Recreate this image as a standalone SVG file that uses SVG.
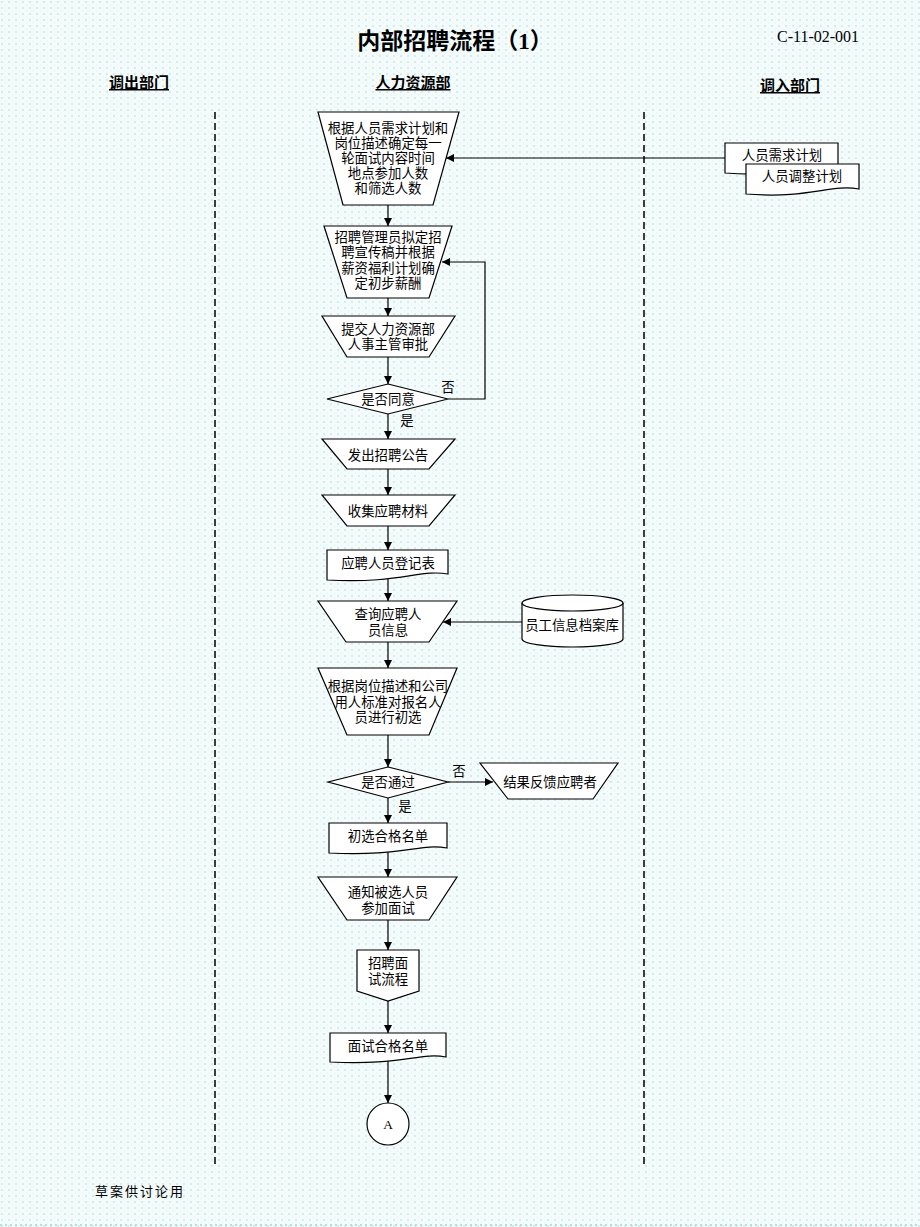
<svg xmlns="http://www.w3.org/2000/svg" width="920" height="1227" viewBox="0 0 920 1227">
<defs>
<pattern id="bg" width="7" height="6" patternUnits="userSpaceOnUse">
<rect width="7" height="6" fill="#f3fbfb"/>
<circle cx="2" cy="2" r="0.9" fill="#c9e6e6"/>
<circle cx="5.5" cy="5" r="0.6" fill="#dff1f1"/>
</pattern>
<marker id="arr" markerWidth="8" markerHeight="8" refX="8" refY="4" orient="auto" markerUnits="userSpaceOnUse">
<path d="M0,0 L8,4 L0,8 Z" fill="#000"/>
</marker>
<style>
.s{fill:#fff;stroke:#000;stroke-width:1.2}
.t{font-family:"Liberation Serif","Noto Sans CJK SC",serif;font-size:13.4px;fill:#000;text-anchor:middle}
.h{font-family:"Liberation Sans","Noto Sans CJK SC",sans-serif;font-size:15px;font-weight:bold;fill:#000;text-anchor:middle;text-decoration:underline}
.c{fill:none;stroke:#000;stroke-width:1.2}
.ca{fill:none;stroke:#000;stroke-width:1.2;marker-end:url(#arr)}
.d{stroke:#000;stroke-width:1.5;stroke-dasharray:7,4}
</style>
</defs>
<rect width="920" height="1227" fill="url(#bg)"/>
<line x1="0" y1="1225" x2="920" y2="1225" stroke="#9fd8cf" stroke-width="1.5" stroke-dasharray="2,3"/>

<g id="header">
<text x="455" y="49" style="font-family:'Liberation Serif','Noto Sans CJK SC',serif;font-size:23px;font-weight:bold;text-anchor:middle">内部招聘流程（1）</text>
<text x="818" y="42" style="font-family:'Liberation Serif',serif;font-size:16px;text-anchor:middle">C-11-02-001</text>
<text class="h" x="139" y="88">调出部门</text>
<text class="h" x="413" y="88">人力资源部</text>
<text class="h" x="790" y="91">调入部门</text>
</g>

<g id="lanes">
<line class="d" x1="215" y1="112" x2="215" y2="1165"/>
<line class="d" x1="644" y1="112" x2="644" y2="1165"/>
</g>

<g id="connectors">
<line class="ca" x1="388" y1="205" x2="388" y2="226"/>
<line class="ca" x1="388" y1="298" x2="388" y2="316"/>
<line class="ca" x1="388" y1="357" x2="388" y2="384"/>
<polyline class="ca" points="448,399 485,399 485,262 442,262"/>
<line class="ca" x1="388" y1="414" x2="388" y2="439"/>
<line class="ca" x1="388" y1="469" x2="388" y2="495"/>
<line class="ca" x1="388" y1="526" x2="388" y2="550"/>
<line class="ca" x1="388" y1="579" x2="388" y2="601"/>
<line class="ca" x1="388" y1="642" x2="388" y2="668"/>
<line class="ca" x1="388" y1="735" x2="388" y2="767"/>
<line class="ca" x1="448" y1="782" x2="493" y2="782"/>
<line class="ca" x1="388" y1="798" x2="388" y2="823"/>
<line class="ca" x1="388" y1="851" x2="388" y2="877"/>
<line class="ca" x1="388" y1="920" x2="388" y2="950"/>
<line class="ca" x1="388" y1="1001" x2="388" y2="1033"/>
<line class="ca" x1="388" y1="1061" x2="388" y2="1103"/>
<line class="ca" x1="725" y1="158" x2="446" y2="158"/>
<line class="ca" x1="522" y1="622" x2="443" y2="622"/>
<text class="t" x="448" y="392">否</text>
<text class="t" x="407" y="425">是</text>
<text class="t" x="459" y="776">否</text>
<text class="t" x="405" y="811">是</text>
</g>

<g id="n1">
<polygon class="s" points="318,112 459,112 433,205 343,205"/>
<text class="t" x="388" y="133">根据人员需求计划和</text>
<text class="t" x="388" y="148">岗位描述确定每一</text>
<text class="t" x="388" y="163">轮面试内容时间</text>
<text class="t" x="388" y="178">地点参加人数</text>
<text class="t" x="388" y="193">和筛选人数</text>
</g>

<g id="n2">
<polygon class="s" points="324,226 452,226 429,298 347,298"/>
<text class="t" x="388" y="242">招聘管理员拟定招</text>
<text class="t" x="388" y="257">聘宣传稿并根据</text>
<text class="t" x="388" y="273">薪资福利计划确</text>
<text class="t" x="388" y="288">定初步薪酬</text>
</g>

<g id="n3">
<polygon class="s" points="322,316 455,316 429,357 347,357"/>
<text class="t" x="388" y="334">提交人力资源部</text>
<text class="t" x="388" y="349">人事主管审批</text>
</g>

<g id="d1">
<polygon class="s" points="388,384 448,399 388,414 327,399"/>
<text class="t" x="388" y="404">是否同意</text>
</g>

<g id="n4">
<polygon class="s" points="322,439 455,439 429,469 347,469"/>
<text class="t" x="388" y="460">发出招聘公告</text>
</g>

<g id="n5">
<polygon class="s" points="322,495 455,495 429,526 347,526"/>
<text class="t" x="388" y="516">收集应聘材料</text>
</g>

<g id="n6">
<path class="s" d="M327,550 H448 V574 C420,569 400,584 327,580 Z"/>
<text class="t" x="388" y="568">应聘人员登记表</text>
</g>

<g id="n7">
<polygon class="s" points="318,601 457,601 429,642 346,642"/>
<text class="t" x="388" y="619">查询应聘人</text>
<text class="t" x="388" y="635">员信息</text>
</g>

<g id="db">
<path class="s" d="M522,603 V639 A50.5,8 0 0 0 623,639 V603"/>
<ellipse class="s" cx="572.5" cy="603" rx="50.5" ry="8"/>
<text class="t" x="572" y="630">员工信息档案库</text>
</g>

<g id="n8">
<polygon class="s" points="318,668 457,668 429,735 347,735"/>
<text class="t" x="388" y="691">根据岗位描述和公司</text>
<text class="t" x="388" y="707">用人标准对报名人</text>
<text class="t" x="388" y="722">员进行初选</text>
</g>

<g id="d2">
<polygon class="s" points="388,767 448,782 388,798 328,782"/>
<text class="t" x="388" y="787">是否通过</text>
</g>

<g id="n9">
<polygon class="s" points="480,763 618,763 593,799 508,799"/>
<text class="t" x="550" y="787">结果反馈应聘者</text>
</g>

<g id="n10">
<path class="s" d="M329,823 H447 V848 C420,843 400,857 329,853 Z"/>
<text class="t" x="388" y="841">初选合格名单</text>
</g>

<g id="n11">
<polygon class="s" points="318,877 457,877 429,920 347,920"/>
<text class="t" x="388" y="897">通知被选人员</text>
<text class="t" x="388" y="913">参加面试</text>
</g>

<g id="n12">
<polygon class="s" points="357,950 419,950 419,991 388,1001 357,991"/>
<text class="t" x="388" y="968">招聘面</text>
<text class="t" x="388" y="984">试流程</text>
</g>

<g id="n13">
<path class="s" d="M330,1033 H446 V1057 C420,1052 400,1066 330,1062 Z"/>
<text class="t" x="388" y="1051">面试合格名单</text>
</g>

<g id="nA">
<circle class="s" cx="388" cy="1124" r="21"/>
<text class="t" x="388" y="1129">A</text>
</g>

<g id="doc1">
<path class="s" d="M725,143 H838 V168 C810,163 790,178 725,173 Z"/>
<text class="t" x="782" y="160">人员需求计划</text>
</g>

<g id="doc2">
<path class="s" d="M746,164 H859 V189 C830,184 810,199 746,194 Z"/>
<text class="t" x="802" y="181">人员调整计划</text>
</g>

<g id="footer">
<text x="140" y="1196" style="font-family:'Liberation Serif','Noto Sans CJK SC',serif;font-size:13px;letter-spacing:2px;text-anchor:middle">草案供讨论用</text>
</g>
</svg>
